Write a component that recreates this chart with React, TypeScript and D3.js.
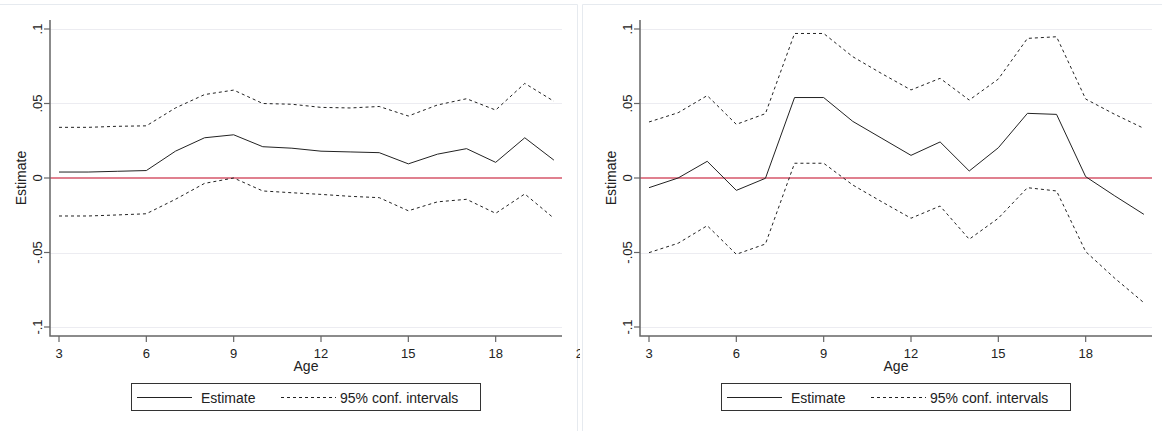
import { useEffect, useRef } from 'react';
import * as d3 from 'd3';

const ages = [3, 4, 5, 6, 7, 8, 9, 10, 11, 12, 13, 14, 15, 16, 17, 18, 19, 20];
const xTicks = [3, 6, 9, 12, 15, 18, 21];
const yTicks = [-0.1, -0.05, 0, 0.05, 0.1];
const yTickLabels = ['-.1', '-.05', '0', '.05', '.1'];

const leftEstimate = [0.004, 0.004, 0.0045, 0.005, 0.018, 0.027, 0.029, 0.021, 0.020, 0.018, 0.0175, 0.017, 0.0095, 0.016, 0.0197, 0.0105, 0.027, 0.012];
const leftUpper = [0.034, 0.034, 0.0347, 0.035, 0.047, 0.056, 0.059, 0.050, 0.0495, 0.0474, 0.047, 0.048, 0.0416, 0.049, 0.0532, 0.0456, 0.0635, 0.0515];
const leftLower = [-0.0255, -0.0255, -0.0248, -0.024, -0.0143, -0.0036, 0.0, -0.0087, -0.0099, -0.011, -0.0123, -0.0132, -0.022, -0.016, -0.0143, -0.0237, -0.0107, -0.027];

const rightEstimate = [-0.0065, 0.0, 0.0112, -0.0083, -0.0002, 0.054, 0.054, 0.038, 0.0266, 0.0152, 0.0242, 0.0047, 0.0203, 0.0434, 0.0427, 0.0009, -0.012, -0.0244];
const rightUpper = [0.0376, 0.0438, 0.0553, 0.036, 0.0432, 0.097, 0.097, 0.0814, 0.070, 0.0591, 0.0669, 0.0523, 0.0664, 0.0937, 0.0948, 0.053, 0.0427, 0.0333];
const rightLower = [-0.0501, -0.0438, -0.032, -0.0512, -0.0443, 0.0099, 0.0099, -0.0047, -0.016, -0.027, -0.0188, -0.0411, -0.027, -0.0065, -0.0087, -0.0494, -0.0673, -0.0837];

const panels = [
    { offset: 0, clipX: 0, clipW: 580, est: leftEstimate, upper: leftUpper, lower: leftLower },
    { offset: 590, clipX: 582, clipW: 580, est: rightEstimate, upper: rightUpper, lower: rightLower },
];

const FONT = "'Liberation Sans', Arial, sans-serif";

export default function App() {
    const svgRef = useRef<SVGSVGElement | null>(null);

    useEffect(() => {
        const svg = d3.select(svgRef.current);
        svg.selectAll('*').remove();

        const W = 1162;
        const H = 431;
        svg.attr('width', W).attr('height', H).attr('viewBox', `0 0 ${W} ${H}`);
        svg.append('rect').attr('width', W).attr('height', H).attr('fill', '#fff');

        const plotL = 50, plotR = 562, plotT = 20, plotB = 336;

        const x = d3.scaleLinear().domain([3, 21]).range([59, 583]);
        const y = d3.scaleLinear().domain([-0.1, 0.1]).range([327, 29]);

        const line = d3.line<number>()
            .x((_, i) => x(ages[i]))
            .y(d => y(d));

        const defs = svg.append('defs');

        panels.forEach((p, pi) => {
            defs.append('clipPath').attr('id', `clip${pi}`)
                .append('rect').attr('x', p.clipX).attr('y', 0).attr('width', p.clipW).attr('height', H);

            const outer = svg.append('g').attr('clip-path', `url(#clip${pi})`);

            // panel frame
            outer.append('path')
                .attr('d', pi === 0 ? `M0,4.5H577.5V${H}` : `M582.5,${H}V4.5H${W}`)
                .attr('fill', 'none')
                .attr('stroke', '#e6eaef')
                .attr('stroke-width', 1);

            const g = outer.append('g').attr('transform', `translate(${p.offset},0)`);

            // gridlines
            g.selectAll('.grid')
                .data(yTicks.filter(t => t !== 0))
                .enter()
                .append('line')
                .attr('x1', plotL).attr('x2', plotR)
                .attr('y1', d => Math.round(y(d)) + 0.5)
                .attr('y2', d => Math.round(y(d)) + 0.5)
                .attr('stroke', '#ececf1')
                .attr('stroke-width', 1);

            // zero reference line
            g.append('line')
                .attr('x1', plotL).attr('x2', plotR)
                .attr('y1', y(0)).attr('y2', y(0))
                .attr('stroke', '#e0808f')
                .attr('stroke-width', 2);

            // confidence bands
            [p.upper, p.lower].forEach(s => {
                g.append('path')
                    .attr('d', line(s))
                    .attr('fill', 'none')
                    .attr('stroke', '#222')
                    .attr('stroke-width', 1)
                    .attr('stroke-dasharray', '3,3');
            });

            // estimate
            g.append('path')
                .attr('d', line(p.est))
                .attr('fill', 'none')
                .attr('stroke', '#222')
                .attr('stroke-width', 1);

            // axes
            g.append('path')
                .attr('d', `M${plotL},${plotT}V${plotB}H${plotR}`)
                .attr('fill', 'none')
                .attr('stroke', '#666')
                .attr('stroke-width', 1.5);

            g.selectAll('.ytick')
                .data(yTicks)
                .enter()
                .append('line')
                .attr('x1', plotL - 6).attr('x2', plotL)
                .attr('y1', d => y(d)).attr('y2', d => y(d))
                .attr('stroke', '#666')
                .attr('stroke-width', 1.2);

            g.selectAll('.ylab')
                .data(yTicks)
                .enter()
                .append('text')
                .attr('transform', d => `translate(42,${y(d)}) rotate(-90)`)
                .attr('text-anchor', 'middle')
                .attr('font-family', FONT)
                .attr('font-size', 13)
                .attr('fill', '#222')
                .text((_, i) => yTickLabels[i]);

            g.append('text')
                .attr('transform', `translate(26,${(plotT + plotB) / 2}) rotate(-90)`)
                .attr('text-anchor', 'middle')
                .attr('font-family', FONT)
                .attr('font-size', 14)
                .attr('fill', '#222')
                .text('Estimate');

            g.selectAll('.xtick')
                .data(xTicks.filter(t => x(t) <= plotR))
                .enter()
                .append('line')
                .attr('x1', d => x(d)).attr('x2', d => x(d))
                .attr('y1', plotB).attr('y2', plotB + 6)
                .attr('stroke', '#666')
                .attr('stroke-width', 1.2);

            // the last label only peeks out where the panel edge allows it
            g.selectAll('.xlab')
                .data(xTicks.filter(t => x(t) + p.offset < W - 10))
                .enter()
                .append('text')
                .attr('x', d => x(d))
                .attr('y', 358)
                .attr('text-anchor', 'middle')
                .attr('font-family', FONT)
                .attr('font-size', 13)
                .attr('fill', '#222')
                .text(d => String(d));

            g.append('text')
                .attr('x', (plotL + plotR) / 2)
                .attr('y', 371)
                .attr('text-anchor', 'middle')
                .attr('font-family', FONT)
                .attr('font-size', 14)
                .attr('fill', '#222')
                .text('Age');

            // legend
            const lg = g.append('g');
            lg.append('rect')
                .attr('x', 131.5).attr('y', 383.5)
                .attr('width', 349).attr('height', 27)
                .attr('fill', '#fff')
                .attr('stroke', '#333')
                .attr('stroke-width', 1);
            lg.append('line')
                .attr('x1', 137).attr('x2', 192)
                .attr('y1', 397.5).attr('y2', 397.5)
                .attr('stroke', '#222');
            lg.append('text')
                .attr('x', 201).attr('y', 402.5)
                .attr('font-family', FONT)
                .attr('font-size', 14)
                .attr('fill', '#222')
                .text('Estimate');
            lg.append('line')
                .attr('x1', 281).attr('x2', 336)
                .attr('y1', 397.5).attr('y2', 397.5)
                .attr('stroke', '#222')
                .attr('stroke-dasharray', '3,3');
            lg.append('text')
                .attr('x', 340).attr('y', 402.5)
                .attr('font-family', FONT)
                .attr('font-size', 14)
                .attr('fill', '#222')
                .text('95% conf. intervals');
        });
    }, []);

    return (
        <div style={{ position: 'absolute', left: 0, top: 0 }}>
            <svg ref={svgRef} style={{ display: 'block' }}></svg>
        </div>
    );
}
